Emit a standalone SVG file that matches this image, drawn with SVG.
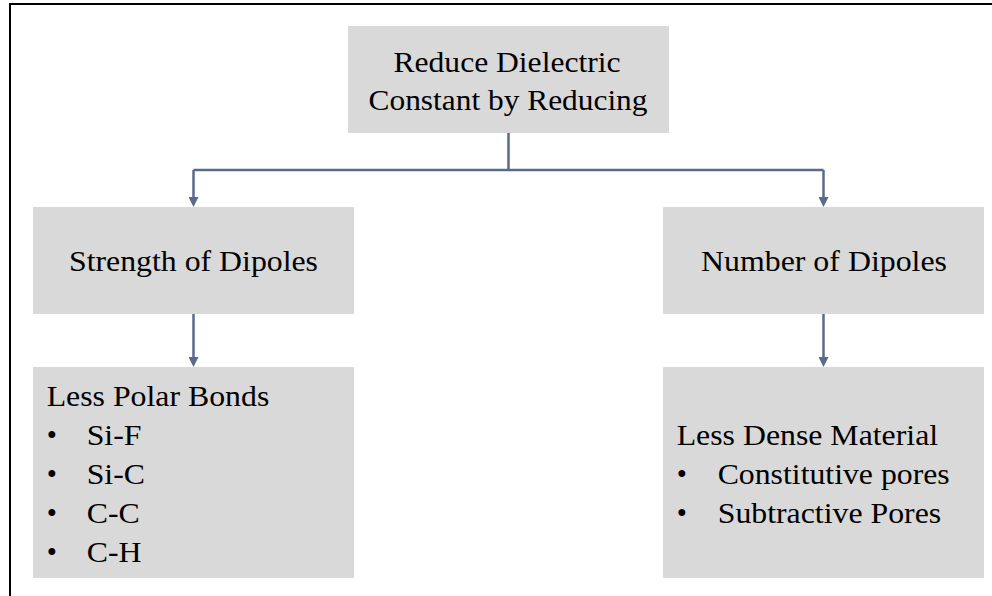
<svg xmlns="http://www.w3.org/2000/svg" width="992" height="596" viewBox="0 0 992 596" font-family="'Liberation Serif', serif">
  <style>
    .box { fill: #D9D9D9; }
    .t { font-family: 'Liberation Serif', 'Times New Roman', serif; font-size: 29px; fill: #000000; }
    .c { text-anchor: middle; }
    .conn { fill: none; stroke: #5A6A88; stroke-width: 2.5; }
    .frame { fill: none; stroke: #000000; stroke-width: 2; }
  </style>
  <defs>
    <marker id="arrow" markerUnits="userSpaceOnUse" markerWidth="10" markerHeight="10" refX="0" refY="5" orient="auto">
      <path d="M0,0 L10,5 L0,10 Z" fill="#5A6A88"/>
    </marker>
  </defs>
  <rect x="0" y="0" width="992" height="596" fill="#FFFFFF"/>
  <path class="frame" d="M10,596 V4 H992"/>

  <g id="connectors">
    <path class="conn" d="M508.5,133 V170"/>
    <path class="conn" d="M193.5,170 H823.5"/>
    <path class="conn" d="M193.5,170 V197" marker-end="url(#arrow)"/>
    <path class="conn" d="M823.5,170 V197" marker-end="url(#arrow)"/>
    <path class="conn" d="M193.5,314 V357" marker-end="url(#arrow)"/>
    <path class="conn" d="M823.5,314 V357" marker-end="url(#arrow)"/>
  </g>

  <g id="node-root">
    <rect class="box" x="348" y="26" width="321" height="107"/>
    <text class="t c" x="507" y="71.5" textLength="227" lengthAdjust="spacingAndGlyphs">Reduce Dielectric</text>
    <text class="t c" x="508" y="109.5" textLength="279" lengthAdjust="spacingAndGlyphs">Constant by Reducing</text>
  </g>

  <g id="node-strength">
    <rect class="box" x="33" y="207" width="321" height="107"/>
    <text class="t c" x="193.5" y="271" textLength="249" lengthAdjust="spacingAndGlyphs">Strength of Dipoles</text>
  </g>

  <g id="node-number">
    <rect class="box" x="663" y="207" width="321" height="107"/>
    <text class="t c" x="824" y="271" textLength="246" lengthAdjust="spacingAndGlyphs">Number of Dipoles</text>
  </g>

  <g id="node-polar">
    <rect class="box" x="33" y="367" width="321" height="211"/>
    <text class="t" x="46.7" y="405.5" textLength="222.6" lengthAdjust="spacingAndGlyphs">Less Polar Bonds</text>
    <text class="t" x="46.7" y="444.5">•</text>
    <text class="t" x="86.7" y="444.5" textLength="54.8" lengthAdjust="spacingAndGlyphs">Si-F</text>
    <text class="t" x="46.7" y="483.5">•</text>
    <text class="t" x="86.7" y="483.5" textLength="58.3" lengthAdjust="spacingAndGlyphs">Si-C</text>
    <text class="t" x="46.7" y="522.5">•</text>
    <text class="t" x="86.7" y="522.5" textLength="53" lengthAdjust="spacingAndGlyphs">C-C</text>
    <text class="t" x="46.7" y="561.5">•</text>
    <text class="t" x="86.7" y="561.5" textLength="54.8" lengthAdjust="spacingAndGlyphs">C-H</text>
  </g>

  <g id="node-dense">
    <rect class="box" x="663" y="367" width="321" height="211"/>
    <text class="t" x="676.7" y="444.5" textLength="261.4" lengthAdjust="spacingAndGlyphs">Less Dense Material</text>
    <text class="t" x="676.7" y="483.5">•</text>
    <text class="t" x="717.7" y="483.5" textLength="232" lengthAdjust="spacingAndGlyphs">Constitutive pores</text>
    <text class="t" x="676.7" y="522.5">•</text>
    <text class="t" x="717.7" y="522.5" textLength="223.5" lengthAdjust="spacingAndGlyphs">Subtractive Pores</text>
  </g>
</svg>
